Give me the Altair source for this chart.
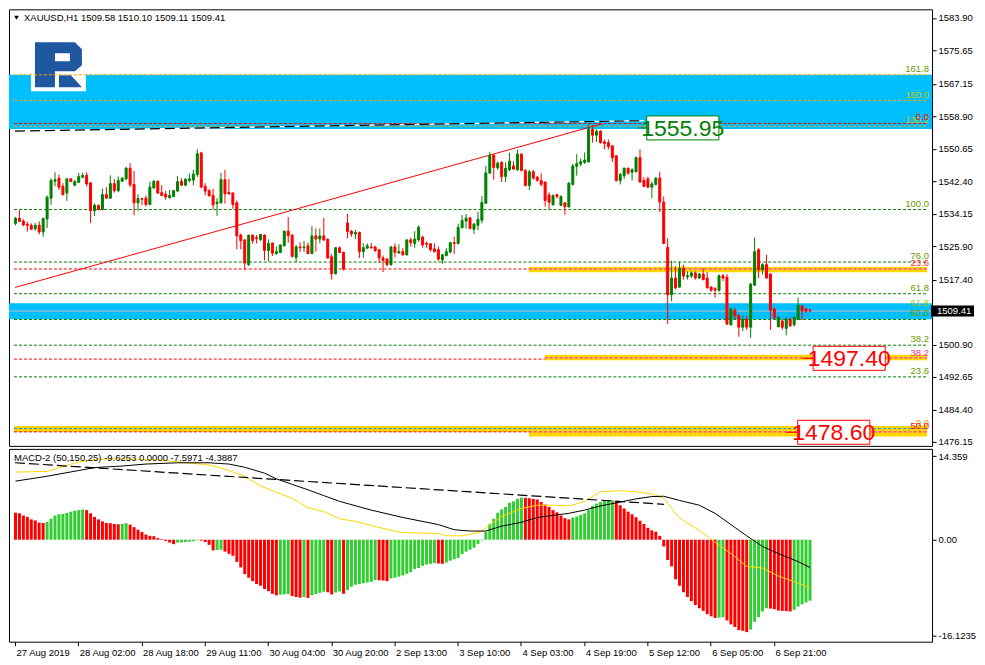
import altair as alt
import pandas as pd

# ---------------- data ----------------
OPEN = [1531.7, 1533.0, 1532.3, 1531.5, 1531.2, 1530.3, 1531.2, 1529.5, 1532.8, 1538.1,
        1542.4, 1543.2, 1541.1, 1539.4, 1543.0, 1541.4, 1542.1, 1543.4, 1543.9, 1542.0,
        1534.9, 1536.3, 1535.2, 1539.0, 1538.1, 1541.8, 1540.0, 1542.4, 1543.0, 1545.7,
        1541.6, 1536.9, 1538.0, 1538.1, 1536.5, 1540.7, 1542.4, 1539.5, 1539.1, 1538.2,
        1538.5, 1539.9, 1542.4, 1541.4, 1542.6, 1542.7, 1544.1, 1549.6, 1541.1, 1540.0,
        1538.8, 1536.7, 1536.9, 1542.8, 1539.6, 1539.4, 1536.9, 1528.7, 1527.5, 1521.2,
        1528.7, 1528.1, 1527.5, 1528.7, 1524.8, 1526.7, 1524.0, 1524.3, 1526.0, 1529.7,
        1528.7, 1523.0, 1525.7, 1525.5, 1526.0, 1524.0, 1528.5, 1527.7, 1528.5, 1527.6,
        1523.2, 1518.9, 1525.5, 1524.3, 1531.8, 1529.7, 1529.0, 1529.4, 1524.5, 1525.4,
        1525.7, 1525.7, 1525.0, 1522.9, 1522.6, 1521.2, 1525.7, 1524.2, 1524.5, 1523.7,
        1527.5, 1526.6, 1527.5, 1528.2, 1526.6, 1526.5, 1525.2, 1525.0, 1522.4, 1523.5,
        1524.4, 1526.8, 1526.6, 1530.6, 1532.3, 1533.1, 1530.2, 1531.2, 1532.5, 1536.8,
        1544.5, 1549.0, 1545.8, 1547.2, 1543.6, 1545.3, 1546.3, 1545.3, 1549.3, 1545.1,
        1541.3, 1544.8, 1543.4, 1542.6, 1542.2, 1538.9, 1536.4, 1539.0, 1536.3, 1536.9,
        1535.9, 1541.6, 1546.2, 1546.8, 1547.2, 1547.3, 1555.6, 1554.1, 1555.1, 1552.4,
        1552.2, 1551.4, 1548.9, 1542.6, 1543.8, 1545.7, 1544.7, 1544.8, 1548.4, 1542.6,
        1543.0, 1540.9, 1541.6, 1543.2, 1537.1, 1525.6, 1513.6, 1517.8, 1515.5, 1520.3,
        1518.1, 1518.3, 1519.1, 1517.8, 1518.8, 1517.8, 1515.5, 1515.1, 1514.7, 1518.4,
        1518.0, 1505.9, 1509.6, 1508.3, 1505.3, 1507.3, 1505.3, 1516.0, 1525.0, 1519.9,
        1521.2, 1518.8, 1509.9, 1505.4, 1506.9, 1505.0, 1507.3, 1505.9, 1507.3, 1510.7,
        1509.9, 1509.58]
HIGH = [1533.3, 1535.0, 1532.7, 1532.1, 1531.7, 1531.8, 1532.2, 1533.2, 1538.8, 1543.2,
        1544.7, 1544.1, 1541.9, 1543.2, 1543.2, 1542.7, 1544.5, 1544.6, 1544.7, 1542.0,
        1536.7, 1536.4, 1540.5, 1540.9, 1543.9, 1543.0, 1543.6, 1543.4, 1546.1, 1547.0,
        1545.0, 1539.1, 1538.2, 1538.8, 1542.3, 1542.7, 1542.6, 1541.4, 1540.0, 1540.2,
        1540.2, 1543.7, 1543.2, 1543.2, 1544.4, 1545.3, 1550.5, 1549.9, 1541.9, 1540.4,
        1540.5, 1538.1, 1544.5, 1545.3, 1543.0, 1539.6, 1537.5, 1529.1, 1527.6, 1528.7,
        1528.9, 1528.7, 1528.9, 1528.9, 1527.6, 1526.8, 1525.8, 1526.4, 1529.9, 1533.3,
        1528.9, 1526.2, 1526.9, 1527.2, 1526.8, 1531.0, 1530.4, 1530.4, 1533.1, 1527.9,
        1523.9, 1525.7, 1525.8, 1524.5, 1534.1, 1530.0, 1530.0, 1529.6, 1526.6, 1526.6,
        1526.7, 1526.0, 1525.1, 1523.5, 1522.9, 1525.9, 1526.6, 1526.4, 1525.4, 1527.6,
        1528.1, 1529.7, 1531.2, 1528.5, 1527.0, 1526.6, 1526.6, 1525.8, 1523.9, 1525.4,
        1527.0, 1528.3, 1531.6, 1533.8, 1534.1, 1533.3, 1531.8, 1534.6, 1538.6, 1546.3,
        1549.9, 1549.2, 1547.4, 1547.5, 1547.2, 1549.7, 1547.5, 1550.4, 1549.5, 1545.5,
        1545.3, 1545.3, 1543.8, 1544.4, 1542.3, 1539.6, 1539.0, 1539.2, 1538.8, 1537.1,
        1542.2, 1546.8, 1549.3, 1548.2, 1549.7, 1557.2, 1556.6, 1555.6, 1555.4, 1553.0,
        1553.0, 1551.5, 1549.0, 1544.5, 1545.9, 1545.9, 1545.7, 1548.7, 1550.5, 1543.4,
        1543.6, 1542.3, 1543.4, 1544.8, 1538.5, 1527.9, 1522.2, 1520.8, 1522.0, 1521.2,
        1519.5, 1519.5, 1519.5, 1519.1, 1520.3, 1519.3, 1515.7, 1515.5, 1518.7, 1518.8,
        1518.8, 1510.3, 1510.3, 1508.6, 1508.2, 1508.2, 1516.6, 1528.1, 1525.4, 1521.6,
        1523.7, 1519.0, 1510.3, 1508.2, 1507.3, 1507.9, 1507.8, 1508.2, 1512.8, 1510.9,
        1510.3, 1510.10]
LOW = [1531.2, 1532.1, 1531.0, 1529.6, 1530.0, 1529.8, 1528.9, 1528.3, 1530.5, 1536.4,
       1541.1, 1540.2, 1538.8, 1537.4, 1542.2, 1541.1, 1542.1, 1543.2, 1541.1, 1531.8,
       1533.6, 1535.0, 1535.0, 1538.0, 1538.0, 1539.5, 1539.6, 1542.2, 1542.6, 1540.9,
       1533.8, 1534.9, 1536.3, 1536.0, 1536.3, 1540.5, 1539.2, 1538.6, 1537.7, 1538.0,
       1538.4, 1539.6, 1541.2, 1541.2, 1542.1, 1541.3, 1543.4, 1540.7, 1538.8, 1538.5,
       1535.2, 1533.6, 1536.7, 1536.7, 1539.0, 1535.4, 1525.1, 1525.1, 1519.8, 1520.9,
       1526.5, 1526.6, 1527.3, 1522.3, 1522.0, 1523.4, 1523.7, 1524.1, 1525.8, 1526.8,
       1523.0, 1521.8, 1524.4, 1524.4, 1523.9, 1523.9, 1524.5, 1526.6, 1527.2, 1522.7,
       1517.4, 1518.7, 1524.1, 1519.7, 1527.9, 1528.3, 1527.7, 1522.9, 1523.0, 1525.2,
       1525.2, 1524.4, 1521.6, 1519.3, 1520.8, 1520.9, 1523.0, 1523.9, 1523.5, 1523.5,
       1525.8, 1525.5, 1527.0, 1525.5, 1525.5, 1524.5, 1524.3, 1522.2, 1521.4, 1523.3,
       1524.1, 1523.9, 1526.3, 1530.4, 1530.4, 1530.2, 1529.0, 1530.0, 1531.7, 1536.6,
       1544.2, 1542.8, 1545.3, 1542.2, 1542.2, 1545.0, 1545.3, 1545.1, 1545.1, 1541.1,
       1540.1, 1542.8, 1542.3, 1541.1, 1535.9, 1535.3, 1536.3, 1538.0, 1536.1, 1533.9,
       1535.7, 1541.3, 1543.8, 1546.2, 1546.8, 1547.2, 1552.2, 1552.4, 1552.0, 1550.5,
       1550.5, 1547.3, 1542.3, 1541.6, 1543.0, 1544.0, 1542.6, 1544.7, 1542.0, 1540.9,
       1540.6, 1538.1, 1541.3, 1534.6, 1526.4, 1506.1, 1511.9, 1514.9, 1515.3, 1517.4,
       1517.4, 1517.8, 1517.4, 1517.6, 1517.2, 1515.2, 1514.3, 1512.8, 1514.3, 1517.0,
       1505.9, 1505.7, 1507.3, 1502.9, 1504.3, 1504.6, 1502.6, 1515.8, 1517.8, 1518.7,
       1517.7, 1504.6, 1507.3, 1505.3, 1504.6, 1503.2, 1505.3, 1505.5, 1507.1, 1507.1,
       1509.0, 1509.11]
CLOSE = [1533.0, 1532.2, 1531.3, 1531.2, 1530.2, 1531.2, 1529.5, 1532.9, 1538.3, 1542.6,
         1542.8, 1540.9, 1539.0, 1543.0, 1542.3, 1542.3, 1543.6, 1543.9, 1541.7, 1534.9,
         1536.3, 1535.2, 1539.0, 1538.1, 1541.8, 1540.0, 1542.6, 1543.2, 1545.7, 1541.5,
         1536.9, 1538.0, 1537.8, 1536.5, 1540.9, 1542.4, 1539.4, 1538.8, 1538.4, 1538.8,
         1540.0, 1542.3, 1541.4, 1542.9, 1543.0, 1544.2, 1549.4, 1540.9, 1539.9, 1538.7,
         1536.4, 1537.1, 1542.8, 1539.2, 1539.2, 1536.5, 1528.5, 1527.3, 1521.6, 1528.7,
         1527.3, 1527.8, 1528.9, 1524.8, 1526.6, 1524.1, 1524.5, 1526.2, 1529.7, 1528.6,
         1523.3, 1525.7, 1525.5, 1525.7, 1524.0, 1528.5, 1527.7, 1528.5, 1527.5, 1522.9,
         1518.9, 1525.5, 1524.3, 1520.1, 1529.6, 1529.0, 1529.4, 1524.5, 1525.5, 1526.0,
         1525.5, 1524.8, 1522.9, 1522.3, 1521.2, 1525.7, 1524.3, 1524.5, 1523.7, 1527.5,
         1526.8, 1527.7, 1530.7, 1526.2, 1526.4, 1525.0, 1524.5, 1522.6, 1523.7, 1524.5,
         1526.8, 1526.6, 1530.7, 1532.4, 1533.0, 1530.4, 1531.5, 1532.7, 1537.0, 1544.5,
         1548.9, 1545.9, 1547.0, 1543.6, 1545.7, 1547.5, 1545.5, 1549.3, 1545.1, 1541.3,
         1544.8, 1543.2, 1542.6, 1541.6, 1537.5, 1537.0, 1538.8, 1538.5, 1538.5, 1535.9,
         1541.9, 1546.3, 1546.9, 1547.4, 1547.8, 1555.6, 1554.1, 1555.1, 1552.2, 1552.0,
         1551.2, 1548.4, 1542.6, 1544.1, 1545.7, 1544.5, 1545.3, 1548.4, 1542.2, 1541.1,
         1540.9, 1541.7, 1543.2, 1537.1, 1526.6, 1513.6, 1517.8, 1515.3, 1520.3, 1518.3,
         1518.4, 1519.1, 1517.8, 1518.8, 1517.4, 1515.3, 1514.7, 1514.7, 1518.4, 1517.8,
         1506.1, 1509.9, 1508.2, 1505.3, 1507.3, 1505.3, 1516.2, 1524.5, 1519.9, 1521.2,
         1517.8, 1509.6, 1507.8, 1507.8, 1505.3, 1507.3, 1505.7, 1507.8, 1510.9, 1509.4,
         1509.4, 1509.41]

HIST = [4.27, 4.17, 3.82, 3.61, 3.21, 3.05, 2.70, 2.65, 2.80, 3.31,
        3.82, 4.02, 4.07, 4.22, 4.43, 4.58, 4.68, 4.78, 4.68, 4.17,
        3.61, 3.21, 2.90, 2.65, 2.60, 2.49, 2.44, 2.49, 2.60, 2.39,
        1.98, 1.58, 1.22, 0.81, 0.61, 0.56, 0.25, 0.10, -0.20, -0.46,
        -0.71, -0.46, -0.41, -0.36, -0.31, -0.25, -0.10, -0.15, -0.36, -0.81,
        -1.68, -1.63, -1.58, -1.88, -2.24, -2.54, -3.51, -4.38, -5.45, -6.01,
        -6.56, -7.02, -7.28, -7.79, -8.14, -8.55, -8.80, -8.70, -8.65, -8.60,
        -8.91, -9.06, -9.16, -9.06, -9.21, -8.80, -8.60, -8.40, -8.24, -8.30,
        -8.65, -8.35, -8.19, -8.55, -7.94, -7.43, -7.12, -7.02, -6.87, -6.77,
        -6.67, -6.36, -6.41, -6.46, -6.56, -6.11, -6.01, -5.85, -5.65, -5.39,
        -5.14, -4.63, -4.48, -4.12, -3.92, -3.82, -3.72, -3.77, -3.82, -3.61,
        -3.31, -3.10, -2.90, -2.29, -1.88, -1.58, -1.27, -0.66, -0.10, 1.27,
        2.49, 3.31, 4.27, 4.78, 5.19, 5.85, 6.06, 6.46, 6.67, 6.62,
        6.56, 6.46, 6.36, 5.95, 5.55, 5.19, 4.68, 4.33, 3.82, 3.41,
        3.21, 3.51, 3.66, 3.92, 4.17, 4.68, 5.34, 5.70, 5.95, 6.11,
        6.16, 6.21, 6.06, 5.45, 4.94, 4.43, 4.02, 3.56, 3.00, 2.49,
        1.88, 1.48, 1.27, 0.61, -1.07, -3.21, -4.22, -6.26, -7.28, -8.30,
        -9.06, -9.72, -10.33, -10.84, -11.25, -11.76, -12.11, -12.37, -12.32, -12.26,
        -12.77, -13.38, -13.79, -14.30, -14.40, -14.61, -14.20, -12.98, -12.26, -11.35,
        -10.84, -10.89, -10.99, -11.20, -11.25, -11.30, -11.35, -11.09, -10.59, -10.23,
        -9.92, -9.63]

MACD_BAR = [0, 8, 16, 20, 27, 33, 41, 49, 54, 58, 63, 66, 70, 74, 78, 82, 90, 98, 107, 111,
            115, 119, 123, 128, 132, 140, 144, 148, 153, 157, 161, 164, 168, 173, 177, 181,
            185, 189, 193, 198, 201]
MACD_VAL = [9.26, 10.03, 10.94, 11.40, 11.65, 11.96, 12.16, 12.16, 11.96, 11.45, 10.53, 9.62,
            8.75, 7.89, 6.97, 6.06, 4.68, 3.51, 2.39, 1.58, 1.37, 1.37, 2.14, 2.75, 3.51, 4.17,
            4.68, 5.34, 5.95, 6.46, 6.82, 6.87, 6.21, 5.45, 4.17, 2.39, 0.61, -1.07, -2.19,
            -3.46, -4.3887]
SIG_BAR = [0, 8, 16, 20, 27, 37, 45, 49, 53, 58, 62, 66, 70, 74, 78, 82, 86, 94, 98, 107,
           109, 113, 118, 120, 123, 128, 132, 136, 140, 144, 148, 153, 157, 161, 164, 168,
           173, 177, 181, 185, 189, 193, 198, 201]
SIG_VAL = [10.69, 10.79, 12.32, 12.67, 12.82, 12.57, 12.06, 11.81, 11.15, 10.03, 8.50, 7.48,
           6.56, 5.04, 4.43, 3.31, 2.90, 1.63, 1.12, 0.97, 0.61, 0.61, 1.27, 2.39, 3.66, 4.94,
           5.45, 5.45, 5.34, 6.06, 7.58, 7.74, 7.58, 7.23, 6.56, 3.41, 1.48, -0.41, -2.19,
           -4.22, -4.48, -5.75, -6.87, -7.5971]
MACD_TREND_BAR = [-0.125, 164.1]
MACD_TREND_VAL = [12.17, 5.60]

RED_TREND_BAR = [-0.125, 148.4]
RED_TREND_PRICE = [1515.4, 1557.0]
BLACK_TREND_BAR = [-0.125, 159.1]
BLACK_TREND_PRICE = [1555.14, 1557.8]

TIME_LABELS = ["27 Aug 2019", "28 Aug 02:00", "28 Aug 18:00", "29 Aug 11:00", "30 Aug 04:00",
               "30 Aug 20:00", "2 Sep 13:00", "3 Sep 10:00", "4 Sep 03:00", "4 Sep 19:00",
               "5 Sep 12:00", "6 Sep 05:00", "6 Sep 21:00"]
PRICE_TICKS = [1583.90, 1575.65, 1567.15, 1558.90, 1550.65, 1542.40, 1534.15, 1525.90,
               1517.40, 1500.90, 1492.65, 1484.40, 1476.15]
CURRENT = 1509.41

BLUE_TOP = [1569.45, 1511.4]
BLUE_BOT = [1555.65, 1507.35]
YEL_START = [129.9, 133.9, None, 129.9]
YEL_TOP = [1520.67, 1498.3, 1480.2, 1478.7]
YEL_BOT = [1519.24, 1496.9, 1478.7, 1477.5]

LEVEL_PRICE = [1569.45, 1562.9, 1556.4, 1557.08, 1535.2, 1521.86, 1520.1, 1520.1, 1513.81,
               1507.27, 1500.73, 1497.2, 1497.5, 1492.68, 1479.55, 1478.7, 1478.7]
LEVEL_KIND = ["orange", "orange", "orange", "red", "green", "green", "red", "magenta", "green",
              "green", "green", "red", "magenta", "green", "blue", "red", "magenta"]
LEVEL_START = [None, None, None, None, None, None, None, 129.9, None,
               None, None, None, 133.9, None, None, None, 129.9]
LEVEL_END = [None, None, None, None, None, None, 129.9, None, None,
             None, None, 133.9, None, None, None, 129.9, None]

FIB_TEXT = ["161.8", "150.0", "138.2", "0.0", "100.0", "76.0", "23.6", "61.8", "61.8",
            "50.0", "38.2", "38.2", "23.6", "0.0", "50.0"]
FIB_PRICE = [1569.45, 1562.9, 1556.4, 1557.08, 1535.2, 1521.86, 1520.1, 1513.81, 1509.9,
             1507.27, 1500.73, 1497.2, 1492.68, 1479.55, 1478.7]
FIB_COLOR = ["#6a9a00", "#c8c800", "#c8c800", "#ff0000", "#6a9a00", "#6a9a00", "#ff3030",
             "#6a9a00", "#a8c800", "#6a9a00", "#6a9a00", "#ff3090", "#6a9a00", "#e0a000",
             "#ff0000"]

TARGET_PRICE = [1555.95, 1497.40, 1478.60]
TARGET_BAR = [159.7, 201.8, 197.9]
TARGET_LEAD = [157.4, 199.1, 194.9]
TARGET_COLOR = ["#008000", "#ff0000", "#ff0000"]

# ---------------- layout constants ----------------
W = 924
H_MAIN = 437
H_MACD = 193
XMIN = -0.375
XMAX = XMIN + W / 4.0
PMIN, PMAX = 1475.14, 1586.09
MMIN, MMAX = -16.1235, 14.359
PX_USD = H_MAIN / (PMAX - PMIN)
PX_BAR = W / (XMAX - XMIN)
FONT = "Liberation Sans"

xs = alt.Scale(domain=[XMIN, XMAX], nice=False, zero=False)
ps = alt.Scale(domain=[PMIN, PMAX], nice=False, zero=False)
ms = alt.Scale(domain=[MMIN, MMAX], nice=False, zero=False)

COLORS = {"orange": "#ffa500", "red": "#ff0000", "green": "#008000",
          "magenta": "#ff00ff", "blue": "#1e90ff"}

price_axis = alt.Axis(orient="right", values=PRICE_TICKS, format=".2f", tickSize=4,
                      labelPadding=2, labelFlush=False, labelOverlap=False, title=None,
                      grid=False, domain=False)
tick_vals = [16 * k - 0.125 for k in range(len(TIME_LABELS))]
lab_arr = "[" + ",".join("'" + s + "'" for s in TIME_LABELS) + "]"
time_axis = alt.Axis(orient="bottom", values=tick_vals, tickSize=4, labelAlign="left",
                     labelPadding=2, labelOffset=1, labelFlush=False, labelOverlap=False,
                     labelExpr=lab_arr + "[round((datum.value + 0.125) / 16)]",
                     title=None, grid=False, domain=False)
m_axis = alt.Axis(orient="right", values=[13.2, 0, -15.2], tickSize=4, labelPadding=2,
                  labelFlush=False, labelOverlap=False, title=None, grid=False, domain=False,
                  labelExpr="datum.value == 0 ? '0.00' : (datum.value > 0 ? '14.359' : '-16.1235')")


def PX(f):  # x in the price panel (no axis)
    return alt.X(f, type="quantitative", scale=xs, axis=None)


def PY(f):  # price
    return alt.Y(f, type="quantitative", scale=ps, axis=price_axis)


def MX(f):
    return alt.X(f, type="quantitative", scale=xs, axis=time_axis)


def MY(f):
    return alt.Y(f, type="quantitative", scale=ms, axis=m_axis)


# ---------------- tables ----------------
n = len(CLOSE)
cdf = pd.DataFrame({"x": list(range(n)), "o": OPEN, "h": HIGH, "l": LOW, "c": CLOSE})
cdf["col"] = ["#008000" if c > o else "#ff0000" for o, c in zip(OPEN, CLOSE)]

blue = pd.DataFrame({"top": BLUE_TOP, "bot": BLUE_BOT})
yel = pd.DataFrame({"x": [XMIN if s is None else s for s in YEL_START],
                    "x2": [XMAX] * len(YEL_TOP), "top": YEL_TOP, "bot": YEL_BOT})
lev = pd.DataFrame({
    "x": [XMIN if s is None else s for s in LEVEL_START],
    "x2": [XMAX if e is None else e for e in LEVEL_END],
    "p": LEVEL_PRICE,
    "col": [COLORS[k] for k in LEVEL_KIND],
})
fib = pd.DataFrame({"t": FIB_TEXT, "p": FIB_PRICE, "col": FIB_COLOR})
tgt = pd.DataFrame({"p": TARGET_PRICE, "x": TARGET_BAR, "lead": TARGET_LEAD, "col": TARGET_COLOR})
tgt["x2"] = tgt["x"] + 73 / PX_BAR
tgt["xc"] = tgt["x"] + 36.5 / PX_BAR
tgt["top"] = tgt["p"] + 12 / PX_USD
tgt["bot"] = tgt["p"] - 12 / PX_USD
tgt["t"] = [f"{v:.2f}" for v in TARGET_PRICE]

red_tr = pd.DataFrame({"x": RED_TREND_BAR, "p": RED_TREND_PRICE})
blk_tr = pd.DataFrame({"x": BLACK_TREND_BAR, "p": BLACK_TREND_PRICE})
cur = pd.DataFrame({"p": [CURRENT], "top": [CURRENT + 5.5 / PX_USD],
                    "bot": [CURRENT - 5.5 / PX_USD], "t": [f"{CURRENT:.2f}"]})
one = pd.DataFrame({"a": [0]})
title_txt = "XAUUSD,H1  {:.2f} {:.2f} {:.2f} {:.2f}".format(OPEN[-1], HIGH[-1], LOW[-1], CLOSE[-1])

# ---------------- main price panel ----------------
l_blue = alt.Chart(blue).mark_rect(color="#00bfff").encode(
    x=alt.value(0), x2=alt.value(W), y=PY("top"), y2="bot:Q")
l_yel = alt.Chart(yel).mark_rect(color="#ffd700").encode(
    x=PX("x"), x2="x2:Q", y=PY("top"), y2="bot:Q")
l_logo_bg = alt.Chart(one).mark_rect(color="white").encode(
    x=alt.value(22), x2=alt.value(77), y=alt.value(31), y2=alt.value(82))
LOGO_PATH = ("M-0.855,-0.855 L0.6,-0.855 L0.855,-0.6 L0.855,-0.018 L0.6,0.2 L-0.127,0.2 "
             "L-0.127,0.782 L-0.855,0.782 Z M-0.127,-0.455 L-0.127,-0.164 L0.418,-0.164 "
             "L0.418,-0.455 Z M0.018,0.345 L0.455,0.345 L0.855,0.782 L0.018,0.782 Z")
l_logo = alt.Chart(one).mark_point(shape=LOGO_PATH, filled=True, size=3025, opacity=1,
                                   color="#1f57a0").encode(x=alt.value(49.5), y=alt.value(56.5))
l_lev = alt.Chart(lev).mark_rule(strokeDash=[3, 2], strokeWidth=1).encode(
    x=PX("x"), x2="x2:Q", y=PY("p"), color=alt.Color("col:N", scale=None))
l_cur = alt.Chart(cur).mark_rule(color="#c0c0c0", strokeWidth=1).encode(
    x=alt.value(0), x2=alt.value(W), y=PY("p"))
l_red = alt.Chart(red_tr).mark_line(color="#ff0000", strokeWidth=1).encode(x=PX("x"), y=PY("p"))
l_blk_w = alt.Chart(blk_tr).mark_line(color="white", strokeWidth=1.2).encode(x=PX("x"), y=PY("p"))
l_blk = alt.Chart(blk_tr).mark_line(color="black", strokeWidth=1.2, strokeDash=[10, 5]).encode(
    x=PX("x"), y=PY("p"))
l_wick = alt.Chart(cdf).mark_rule(strokeWidth=1).encode(
    x=PX("x"), y=PY("l"), y2="h:Q", color=alt.Color("col:N", scale=None))
l_body = alt.Chart(cdf).mark_bar(size=2, strokeWidth=1).encode(
    x=PX("x"), y=PY("o"), y2="c:Q",
    color=alt.Color("col:N", scale=None), stroke=alt.Stroke("col:N", scale=None))
l_lead = alt.Chart(tgt).mark_rule(strokeWidth=1).encode(
    x=PX("lead"), x2="x:Q", y=PY("p"), color=alt.Color("col:N", scale=None))
l_box = alt.Chart(tgt).mark_rect(fill="white", strokeWidth=1).encode(
    x=PX("x"), x2="x2:Q", y=PY("top"), y2="bot:Q", stroke=alt.Stroke("col:N", scale=None))
l_box_t = alt.Chart(tgt).mark_text(fontSize=23, font="Liberation Sans Narrow, Arial Narrow, Liberation Sans",
                                   baseline="middle", align="center", dy=1).encode(
    x=PX("xc"), y=PY("p"), text="t:N", color=alt.Color("col:N", scale=None))
l_fib = alt.Chart(fib).mark_text(fontSize=9.5, font=FONT, align="right", baseline="middle", dy=-6).encode(
    x=alt.value(W - 3), y=PY("p"), text="t:N", color=alt.Color("col:N", scale=None))
l_tag = alt.Chart(cur).mark_rect(color="black").encode(
    x=alt.value(W - 1), x2=alt.value(W + 42), y=PY("top"), y2="bot:Q")
l_tag_t = alt.Chart(cur).mark_text(fontSize=9.5, font=FONT, color="white", align="left",
                                   baseline="middle").encode(x=alt.value(W + 5), y=PY("p"), text="t:N")
l_tri = alt.Chart(one).mark_point(shape="triangle-down", filled=True, size=22, color="black",
                                  opacity=1).encode(x=alt.value(7.5), y=alt.value(8.5))
l_title = alt.Chart(pd.DataFrame({"t": [title_txt]})).mark_text(
    fontSize=9.5, font=FONT, color="black", align="left", baseline="middle").encode(
    x=alt.value(15), y=alt.value(9), text="t:N")

main = alt.layer(l_blue, l_yel, l_logo_bg, l_logo, l_lev, l_cur, l_red, l_blk_w, l_blk,
                 l_wick, l_body, l_lead, l_box, l_box_t, l_fib, l_tag, l_tag_t, l_tri,
                 l_title).properties(width=W, height=H_MAIN)

# ---------------- MACD panel ----------------
hdf = pd.DataFrame({"x": list(range(len(HIST))), "v": HIST, "zero": 0.0})
hdf["col"] = ["#ff0000"] + ["#32cd32" if HIST[k] > HIST[k - 1] else "#ff0000"
                            for k in range(1, len(HIST))]
mdf = pd.DataFrame({"x": MACD_BAR, "v": MACD_VAL})
sdf = pd.DataFrame({"x": SIG_BAR, "v": SIG_VAL})
tdf = pd.DataFrame({"x": MACD_TREND_BAR, "v": MACD_TREND_VAL})

h_bar = alt.Chart(hdf).mark_bar(size=3).encode(
    x=MX("x"), y=MY("v"), y2="zero:Q", color=alt.Color("col:N", scale=None))
h_sig = alt.Chart(sdf).mark_line(color="#ffd700", strokeWidth=1).encode(x=MX("x"), y=MY("v"))
h_macd = alt.Chart(mdf).mark_line(color="black", strokeWidth=1).encode(x=MX("x"), y=MY("v"))
h_tr = alt.Chart(tdf).mark_line(color="black", strokeWidth=1.2, strokeDash=[10, 4]).encode(
    x=MX("x"), y=MY("v"))
h_title = alt.Chart(pd.DataFrame({"t": ["MACD-2 (50,150,25) -9.6253 0.0000 -7.5971 -4.3887"]})).mark_text(
    fontSize=9.5, font=FONT, color="black", align="left", baseline="middle").encode(
    x=alt.value(5), y=alt.value(9), text="t:N")

macd = alt.layer(h_bar, h_sig, h_macd, h_tr, h_title).properties(width=W, height=H_MACD)

chart = alt.vconcat(main, macd, spacing=0).properties(
    padding=0, background="white"
).configure_view(stroke="black", strokeWidth=1).configure_axis(
    labelFont=FONT, labelFontSize=9.5, labelColor="black", tickColor="black", tickWidth=1
)

chart.save("out.html", embed_options={"renderer": "svg", "actions": False})
